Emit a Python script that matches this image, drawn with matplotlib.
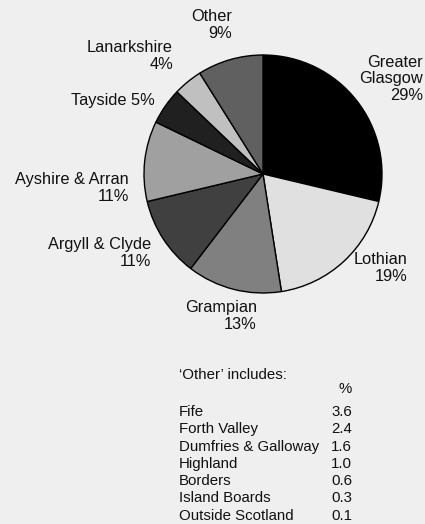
import matplotlib.pyplot as plt

# board areas (percent of total)
boards = ['Greater\nGlasgow\n29%', 'Lothian\n19%', 'Grampian\n13%', 'Argyll & Clyde\n11%',
          'Ayshire & Arran\n11%', 'Tayside 5%', 'Lanarkshire\n4%', 'Other\n9%']
shares = [29, 19, 13, 11, 11, 5, 4, 9]
greys = ['#000000', '#e0e0e0', '#808080', '#404040', '#a0a0a0', '#202020', '#c0c0c0', '#606060']

# breakdown of 'Other'
other_names = ['Fife', 'Forth Valley', 'Dumfries & Galloway', 'Highland', 'Borders',
               'Island Boards', 'Outside Scotland']
other_vals = [3.6, 2.4, 1.6, 1.0, 0.6, 0.3, 0.1]

W, H = 425, 524
bg = '#efefef'
plt.rcParams['font.family'] = ['Liberation Sans', 'DejaVu Sans']

fig = plt.figure(figsize=(W / 100, H / 100), dpi=100, facecolor=bg)
ax = fig.add_axes([0, 0, 1, 1])
ax.set_facecolor(bg)

# pie in pixel units, y measured from the top of the picture
cx, cy, r = 263, H - 174, 119
ax.pie(shares, colors=greys, startangle=90, counterclock=False, center=(cx, cy), radius=r,
       wedgeprops=dict(edgecolor='black', linewidth=1.0), frame=True)
ax.set_xlim(0, W)
ax.set_ylim(0, H)
ax.set_aspect('equal')
ax.axis('off')

# label anchors: right edge x, vertical centre (pixels from top)
label_pos = [(423, 79), (408, 268), (257, 316), (151, 253), (129, 188), (155, 101), (173, 56), (232, 25)]
for txt, (x, y) in zip(boards, label_pos):
    ax.text(x, H - y, txt, ha='right', va='center', multialignment='right',
            fontsize=11.8, linespacing=1.1, color='#111111')

# table of 'Other'
fs = 10.8
ax.text(179, H - 375, "\u2018Other\u2019 includes:", ha='left', va='center', fontsize=fs, color='#111111')
ax.text(352, H - 389, '%', ha='right', va='center', fontsize=fs, color='#111111')
for i, (name, val) in enumerate(zip(other_names, other_vals)):
    y = H - (412 + 17.3 * i)
    ax.text(179, y, name, ha='left', va='center', fontsize=fs, color='#111111')
    ax.text(352, y, f'{val:.1f}', ha='right', va='center', fontsize=fs, color='#111111')

fig.savefig('out.png', dpi=100, facecolor=bg)
